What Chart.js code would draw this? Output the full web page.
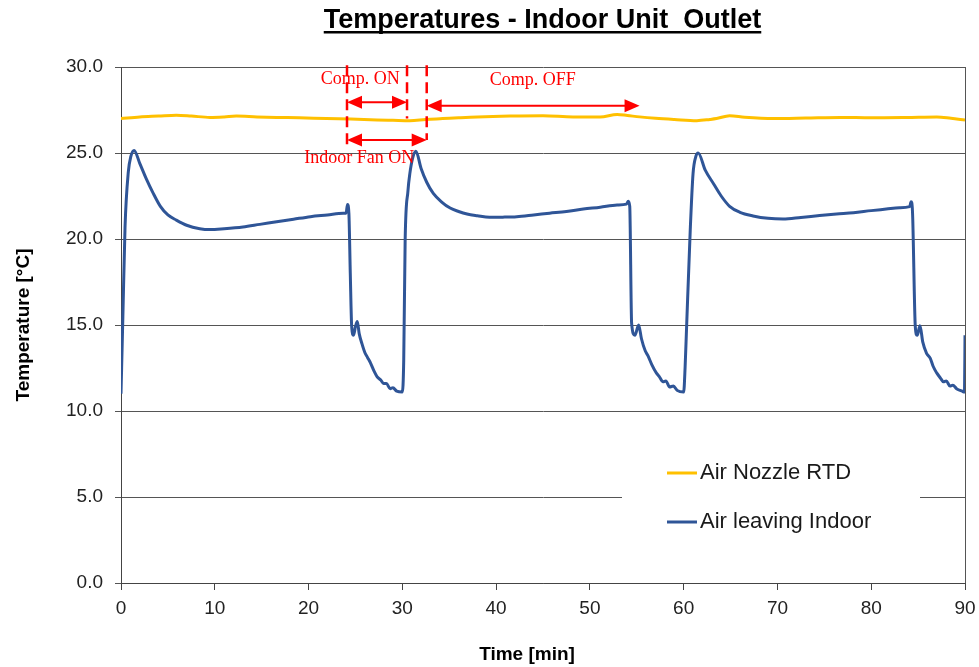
<!DOCTYPE html>
<html lang="en">
  <head>
    <meta charset="UTF-8" />
    <title>Temperatures - Indoor Unit Outlet</title>
    <style>
      html,
      body {
        margin: 0;
        padding: 0;
        background: #ffffff;
      }
      #wrap {
        width: 979px;
        height: 667px;
      }
    </style>
  </head>
  <body>
    <div id="wrap"><canvas id="tempChart" width="979" height="667"></canvas></div>

    <script src="https://cdn.jsdelivr.net/npm/chart.js"></script>

    <script>
      // Air leaving indoor unit [min, °C]
      const leavingTime = [
        0.0, 0.2, 0.43, 0.78, 1.05, 1.4, 2.0, 2.7, 3.4, 4.2, 5.0, 5.9, 7.0, 8.4, 9.5, 11.0, 13.0, 14.8, 16.6, 18.4,
        20.2, 22.0, 23.7, 24.0, 24.15, 24.3, 24.45, 24.6, 24.8, 25.0, 25.2, 25.4, 25.7, 26.0, 26.3, 26.6, 27.0,
        27.3, 27.7, 28.0, 28.3, 28.7, 29.0, 29.4, 30.0, 30.15, 30.3, 30.6, 30.8, 31.1, 31.45,
        32.0, 32.6, 33.3, 34.2, 35.1, 36.0, 36.9, 38.0, 39.3, 40.7, 42.2, 44.0, 45.7, 47.5, 49.3, 51.1, 52.9,
        53.9, 54.1, 54.25, 54.45, 54.8, 55.2, 55.5, 55.9, 56.2, 56.6, 57.1, 57.4, 57.8, 58.1, 58.5, 58.9, 59.3,
        60.0, 60.15, 60.3, 60.7, 61.0, 61.3, 61.55,
        62.3, 63.2, 64.0, 64.9, 66.0, 67.4, 69.0, 70.6, 72.5, 74.5, 76.3, 78.1, 80.0, 81.6, 83.0, 84.1, 84.25,
        84.4, 84.7, 84.9, 85.2, 85.5, 85.9, 86.3, 86.6, 87.0, 87.4, 87.7, 88.0, 88.4, 88.7, 89.1, 89.7, 89.95, 90.0,
      ];
      const leavingTemp = [
        11.0, 15.5, 20.7, 23.9, 24.8, 25.15, 24.4, 23.5, 22.7, 21.9, 21.4, 21.1, 20.8, 20.6, 20.55, 20.6, 20.7,
        20.85, 21.0, 21.15, 21.3, 21.4, 21.5, 21.5, 22.0, 21.5, 18.0, 14.9, 14.4, 14.9, 15.2, 14.5, 13.9, 13.4,
        13.1, 12.8, 12.3, 12.0, 11.8, 11.6, 11.6, 11.3, 11.35, 11.15, 11.1, 13.0, 19.9, 22.8, 23.8, 24.7, 25.1,
        24.1, 23.3, 22.65, 22.15, 21.8, 21.6, 21.45, 21.35, 21.26, 21.27, 21.3, 21.4, 21.5, 21.6, 21.74, 21.85,
        21.98, 22.03, 22.2, 21.9, 15.1, 14.4, 15.0, 14.2, 13.5, 13.2, 12.7, 12.2, 12.0, 11.7, 11.75, 11.4, 11.45,
        11.2, 11.1, 12.5, 14.7, 20.5, 23.8, 24.8, 25.0,
        24.0, 23.2, 22.5, 21.9, 21.55, 21.34, 21.2, 21.16, 21.25, 21.36, 21.45, 21.53, 21.65, 21.74, 21.82, 21.88,
        22.17, 21.6, 14.9, 14.4, 14.95, 14.0, 13.35, 13.06, 12.6, 12.2, 11.9, 11.7, 11.75, 11.45, 11.5, 11.3,
        11.15, 11.1, 14.4,
      ];

      // Air nozzle RTD [min, °C]
      const nozzleTime = [
        0, 2, 4, 5.9, 7.5, 9.5, 11, 12.3, 14.5, 16.6, 19, 21.9, 24.5, 27.3, 29, 30.8, 32.5, 34.3, 36, 38, 41.5, 45,
        48.2, 51.1, 52.9, 54, 55.3, 57, 59, 61.4, 62.8, 63.5, 64.9, 66.5, 69.6, 73, 76.7, 80, 83.8, 87, 88.5, 90,
      ];
      const nozzleTemp = [
        27.0, 27.1, 27.15, 27.2, 27.15, 27.07, 27.1, 27.15, 27.1, 27.07, 27.05, 27.0, 26.97, 26.92, 26.9, 26.88,
        26.95, 27.0, 27.05, 27.1, 27.15, 27.17, 27.1, 27.1, 27.24, 27.18, 27.1, 27.02, 26.95, 26.88, 26.95, 27.0,
        27.17, 27.08, 27.0, 27.03, 27.07, 27.05, 27.07, 27.1, 27.02, 26.92,
      ];

      const seriesNames = ["Air Nozzle RTD", "Air leaving Indoor"];
      const xTicks = [0, 10, 20, 30, 40, 50, 60, 70, 80, 90];
      const yTicks = [0, 5, 10, 15, 20, 25, 30];

      // compressor / fan switching times [min]
      const fanOnStart = 24.1;
      const compOnEnd = 30.5;
      const fanOnEnd = 32.6;
      const compOffEnd = 55.3;

      function toPoints(xs, ys) {
        return xs.map((x, i) => ({ x: x, y: ys[i] }));
      }

      const FONT = "'Liberation Sans', Arial, sans-serif";
      const SERIF = "'Liberation Serif', 'Times New Roman', serif";

      function arrow(ctx, x1, x2, y) {
        const head = 15;
        const half = 6.5;
        ctx.beginPath();
        ctx.moveTo(x1 + head - 2, y);
        ctx.lineTo(x2 - head + 2, y);
        ctx.stroke();
        ctx.beginPath();
        ctx.moveTo(x2, y);
        ctx.lineTo(x2 - head, y - half);
        ctx.lineTo(x2 - head, y + half);
        ctx.closePath();
        ctx.fill();
        ctx.beginPath();
        ctx.moveTo(x1, y);
        ctx.lineTo(x1 + head, y - half);
        ctx.lineTo(x1 + head, y + half);
        ctx.closePath();
        ctx.fill();
      }

      const decorations = {
        id: "decorations",
        beforeDatasetsDraw(chart) {
          const { ctx, chartArea } = chart;
          ctx.save();
          // plot frame on the right
          ctx.strokeStyle = "#555";
          ctx.lineWidth = 1;
          ctx.beginPath();
          ctx.moveTo(chartArea.right + 0.5, chartArea.top);
          ctx.lineTo(chartArea.right + 0.5, chartArea.bottom);
          ctx.stroke();
          // legend box
          ctx.fillStyle = "#ffffff";
          ctx.fillRect(622, 445, 298, 103);
          ctx.restore();
        },
        afterDatasetsDraw(chart) {
          const { ctx } = chart;
          const xs = chart.scales.x;
          const ys = chart.scales.y;
          ctx.save();

          // legend entries
          chart.data.datasets.forEach((ds, i) => {
            const y = 473 + i * 49;
            ctx.strokeStyle = ds.borderColor;
            ctx.lineWidth = 3;
            ctx.beginPath();
            ctx.moveTo(667, y);
            ctx.lineTo(697, y);
            ctx.stroke();
            ctx.fillStyle = "#1a1a1a";
            ctx.font = "22px " + FONT;
            ctx.textAlign = "left";
            ctx.textBaseline = "middle";
            ctx.fillText(ds.label, 700, y);
          });

          // switching markers
          ctx.strokeStyle = "#ff0000";
          ctx.fillStyle = "#ff0000";
          ctx.lineWidth = 2.5;
          ctx.setLineDash([11, 6]);
          [
            [fanOnStart, 25.47],
            [compOnEnd, 27.0],
            [fanOnEnd, 25.76],
          ].forEach(([t, bottom]) => {
            const px = xs.getPixelForValue(t);
            ctx.beginPath();
            ctx.moveTo(px, ys.getPixelForValue(30.1));
            ctx.lineTo(px, ys.getPixelForValue(bottom));
            ctx.stroke();
          });
          ctx.setLineDash([]);
          ctx.lineWidth = 2;
          arrow(ctx, xs.getPixelForValue(fanOnStart), xs.getPixelForValue(compOnEnd), ys.getPixelForValue(27.95));
          arrow(ctx, xs.getPixelForValue(fanOnEnd), xs.getPixelForValue(compOffEnd), ys.getPixelForValue(27.75));
          arrow(ctx, xs.getPixelForValue(fanOnStart), xs.getPixelForValue(fanOnEnd), ys.getPixelForValue(25.76));

          ctx.font = "18px " + SERIF;
          ctx.textAlign = "center";
          ctx.textBaseline = "middle";
          ctx.fillText("Comp. ON", xs.getPixelForValue(25.5), ys.getPixelForValue(29.3));
          ctx.fillText("Comp. OFF", xs.getPixelForValue(43.9), ys.getPixelForValue(29.2));
          ctx.fillText("Indoor Fan ON", xs.getPixelForValue(25.4), ys.getPixelForValue(24.68));
          ctx.restore();
        },
        afterDraw(chart) {
          const { ctx } = chart;
          ctx.save();
          // underlined chart title
          const title = "Temperatures - Indoor Unit  Outlet";
          ctx.font = "bold 27px " + FONT;
          ctx.fillStyle = "#000";
          ctx.textAlign = "center";
          ctx.textBaseline = "alphabetic";
          const cx = 542.5;
          ctx.fillText(title, cx, 28);
          const w = ctx.measureText(title).width;
          ctx.fillRect(cx - w / 2, 31, w, 2.5);
          // x axis title
          ctx.font = "bold 19px " + FONT;
          ctx.textBaseline = "middle";
          ctx.fillText("Time [min]", 527, 655);
          ctx.restore();
        },
      };

      const ctx = document.getElementById("tempChart").getContext("2d");

      const tempChart = new Chart(ctx, {
        type: "line",
        data: {
          datasets: [
            {
              label: seriesNames[0],
              data: toPoints(nozzleTime, nozzleTemp),
              borderColor: "#ffc000",
              borderWidth: 3,
              pointRadius: 0,
              cubicInterpolationMode: "monotone",
              fill: false,
            },
            {
              label: seriesNames[1],
              data: toPoints(leavingTime, leavingTemp),
              borderColor: "#2f5597",
              borderWidth: 3,
              pointRadius: 0,
              cubicInterpolationMode: "monotone",
              fill: false,
            },
          ],
        },
        options: {
          responsive: false,
          animation: false,
          layout: {
            padding: { top: 67, right: 14, bottom: 0, left: 0 },
          },
          plugins: {
            legend: { display: false },
            title: { display: false },
            tooltip: { enabled: false },
          },
          scales: {
            x: {
              type: "linear",
              min: 0,
              max: 90,
              afterFit(scale) {
                scale.height = 84;
                scale.paddingLeft = 0;
                scale.paddingRight = 0;
              },
              afterBuildTicks(scale) {
                scale.ticks = xTicks.map((v) => ({ value: v }));
              },
              border: { display: true, color: "#444", width: 1 },
              grid: {
                drawOnChartArea: false,
                drawTicks: true,
                tickLength: 7,
                color: "#444",
              },
              ticks: {
                padding: 7,
                color: "#222",
                font: { family: FONT, size: 19 },
                maxRotation: 0,
              },
            },
            y: {
              min: 0,
              max: 30,
              afterFit(scale) {
                scale.width = 121;
              },
              afterBuildTicks(scale) {
                scale.ticks = yTicks.map((v) => ({ value: v }));
              },
              border: { display: true, color: "#444", width: 1 },
              grid: {
                drawOnChartArea: true,
                drawTicks: true,
                tickLength: 6,
                color: "#555",
                lineWidth: 1,
              },
              ticks: {
                padding: 12,
                color: "#222",
                font: { family: FONT, size: 19 },
                callback: (v) => v.toFixed(1),
              },
              title: {
                display: true,
                text: "Temperature [°C]",
                color: "#000",
                font: { family: FONT, size: 19, weight: "bold" },
                padding: { top: 12, bottom: 0 },
              },
            },
          },
        },
        plugins: [decorations],
      });
    </script>
  </body>
</html>
